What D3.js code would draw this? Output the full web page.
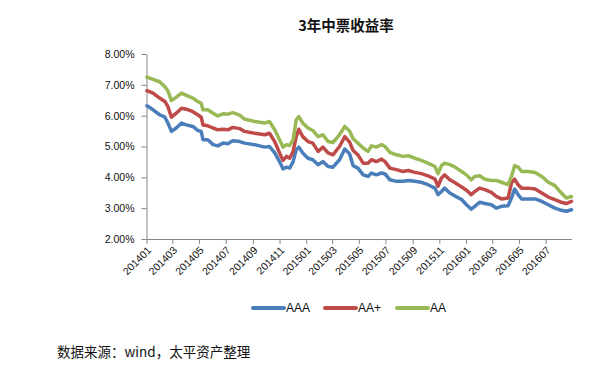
<!DOCTYPE html>
<html>
<head>
<meta charset="utf-8">
<script src="https://cdn.jsdelivr.net/npm/d3@7"></script>
<style>
  body { margin: 0; background: #fff; }
  svg { display: block; }
</style>
</head>
<body>
<script>
 //Data (yields in %)
 var dates = [
     "2014-01-02", "2014-01-16", "2014-01-31", "2014-02-12", "2014-02-19", "2014-02-27", "2014-03-10", "2014-03-22", "2014-04-02", "2014-04-17",
     "2014-04-28", "2014-05-06", "2014-05-10", "2014-05-21", "2014-06-02", "2014-06-13", "2014-06-25", "2014-07-06", "2014-07-17", "2014-08-02",
     "2014-08-13", "2014-09-05", "2014-09-28", "2014-10-09", "2014-10-21", "2014-11-01", "2014-11-09", "2014-11-17", "2014-11-24", "2014-12-02",
     "2014-12-09", "2014-12-15", "2014-12-24",
     "2015-01-05", "2015-01-16", "2015-01-28", "2015-02-08", "2015-02-20", "2015-03-03", "2015-03-18", "2015-03-30", "2015-04-10", "2015-04-18",
     "2015-04-29", "2015-05-11", "2015-05-22", "2015-05-30", "2015-06-10", "2015-06-22", "2015-06-30", "2015-07-11", "2015-07-26", "2015-08-10",
     "2015-08-22", "2015-09-06", "2015-09-21", "2015-10-06", "2015-10-22", "2015-10-29", "2015-11-06", "2015-11-13", "2015-11-25", "2015-12-06",
     "2015-12-22",
     "2016-01-02", "2016-01-13", "2016-01-21", "2016-02-01", "2016-02-13", "2016-02-28", "2016-03-10", "2016-03-22", "2016-04-06", "2016-04-14",
     "2016-04-21", "2016-04-29", "2016-05-07", "2016-05-22", "2016-06-07", "2016-06-22", "2016-07-07", "2016-07-22", "2016-08-06", "2016-08-17",
     "2016-08-29"
 ];

 var aaa = [
     6.32, 6.19, 6.03, 5.95, 5.76, 5.49, 5.60, 5.76, 5.70, 5.65,
     5.52, 5.49, 5.22, 5.22, 5.06, 5.02, 5.11, 5.09, 5.19, 5.16,
     5.11, 5.06, 4.98, 5.00, 4.79, 4.51, 4.27, 4.33, 4.30, 4.51,
     4.89, 4.98, 4.79,
     4.62, 4.57, 4.41, 4.51, 4.35, 4.33, 4.57, 4.92, 4.76, 4.38,
     4.30, 4.08, 4.03, 4.14, 4.08, 4.14, 4.11, 3.92, 3.87, 3.87,
     3.90, 3.87, 3.84, 3.76, 3.65, 3.44, 3.54, 3.65, 3.49, 3.40,
     3.28,
     3.11, 2.97, 3.06, 3.19, 3.15, 3.11, 3.00, 3.06, 3.08, 3.33,
     3.62, 3.44, 3.30, 3.30, 3.30, 3.22, 3.11, 3.00, 2.93, 2.90,
     2.95
 ];

 var aaPlus = [
     6.81, 6.73, 6.57, 6.46, 6.29, 5.95, 6.08, 6.24, 6.21, 6.13,
     6.03, 5.95, 5.70, 5.67, 5.60, 5.54, 5.56, 5.54, 5.62, 5.58,
     5.49, 5.43, 5.38, 5.43, 5.16, 4.79, 4.55, 4.68, 4.62, 4.84,
     5.32, 5.56, 5.32,
     5.16, 5.11, 4.84, 4.98, 4.79, 4.73, 5.00, 5.32, 5.14, 4.87,
     4.73, 4.46, 4.46, 4.57, 4.51, 4.59, 4.51, 4.30, 4.25, 4.19,
     4.22, 4.16, 4.12, 4.05, 3.94, 3.71, 3.98, 4.08, 3.92, 3.83,
     3.69,
     3.58, 3.44, 3.54, 3.65, 3.60, 3.51, 3.38, 3.30, 3.33, 3.82,
     3.94, 3.76, 3.65, 3.65, 3.62, 3.49, 3.36, 3.28, 3.19, 3.15,
     3.22
 ];

 var aa = [
     7.25, 7.18, 7.10, 6.94, 6.80, 6.49, 6.60, 6.73, 6.66, 6.57,
     6.46, 6.40, 6.19, 6.19, 6.08, 5.99, 6.06, 6.05, 6.10, 6.02,
     5.89, 5.81, 5.76, 5.81, 5.54, 5.22, 4.98, 5.06, 5.03, 5.22,
     5.86, 5.97, 5.76,
     5.60, 5.52, 5.32, 5.38, 5.16, 5.13, 5.38, 5.65, 5.50, 5.25,
     5.11, 4.95, 4.84, 5.02, 4.98, 5.06, 5.00, 4.81, 4.73, 4.68,
     4.70, 4.62, 4.55, 4.46, 4.35, 4.12, 4.38, 4.46, 4.41, 4.34,
     4.19,
     4.08, 3.92, 4.03, 4.05, 3.94, 3.90, 3.90, 3.84, 3.76, 4.03,
     4.38, 4.33, 4.19, 4.19, 4.16, 4.03, 3.84, 3.73, 3.49, 3.33,
     3.38
 ];

 var seriesNames = ["AAA", "AA+", "AA"];
 var seriesColors = ["#4a7ebb", "#be4b48", "#98b954"];
 var yTicks = [2, 3, 4, 5, 6, 7, 8];
 var xTickLabels = ["201401", "201403", "201405", "201407", "201409", "201411", "201501", "201503",
     "201505", "201507", "201509", "201511", "201601", "201603", "201605", "201607"];

 var titleText = "3年中票收益率";
 var sourceText = "数据来源：wind，太平资产整理";

 //Width and height
 var margin = {
         left: 146.5,
         right: 23.5,
         top: 54,
         bottom: 138
     },
     width = 595 - margin.left - margin.right,
     height = 377 - margin.top - margin.bottom;

 var parseDate = d3.timeParse("%Y-%m-%d");
 var parseMonth = d3.timeParse("%Y%m");

 //Scales
 var x = d3.scaleTime()
     .domain([parseDate("2014-01-01"), parseDate("2016-08-29")])
     .range([0, width]);

 var y = d3.scaleLinear()
     .domain([2, 8])
     .range([height, 0]);

 //Create SVG element
 var svgRoot = d3.select("body")
     .append("svg")
     .attr("width", 595)
     .attr("height", 377)
     .style("font-family", "'Liberation Sans', Arial, sans-serif");

 var svg = svgRoot.append("g")
     .attr("transform", "translate(" + margin.left + "," + margin.top + ")");

 //Title
 svgRoot.append("text")
     .attr("x", 346)
     .attr("y", 31)
     .attr("text-anchor", "middle")
     .style("font-family", "'Noto Sans CJK SC', sans-serif")
     .style("font-size", "14.5px")
     .style("font-weight", "bold")
     .style("fill", "#111")
     .text(titleText);

 //Y axis
 var yAxis = svg.append("g")
     .attr("class", "y axis")
     .call(d3.axisLeft(y)
         .tickValues(yTicks)
         .tickSize(5)
         .tickSizeOuter(0)
         .tickPadding(7)
         .tickFormat(function(d) {
             return d.toFixed(2) + "%";
         }));

 //X axis
 var xAxis = svg.append("g")
     .attr("class", "x axis")
     .attr("transform", "translate(0," + height + ")")
     .call(d3.axisBottom(x)
         .tickValues(xTickLabels.map(function(s) {
             return parseMonth(s);
         }))
         .tickSize(5)
         .tickSizeOuter(0)
         .tickFormat(d3.timeFormat("%Y%m")));

 xAxis.selectAll("text")
     .attr("text-anchor", "end")
     .attr("dx", null)
     .attr("dy", null)
     .attr("y", null)
     .attr("transform", "translate(3,10) rotate(-45)")
     .attr("dominant-baseline", "middle");

 svg.selectAll(".axis path, .axis line")
     .attr("stroke", "#868686");
 svg.selectAll(".axis text")
     .style("font-size", "10.5px")
     .attr("fill", "#111");

 //Build series from the arrays
 var valueSets = [aaa, aaPlus, aa];
 var series = seriesNames.map(function(name, i) {
     return {
         name: name,
         color: seriesColors[i],
         values: dates.map(function(d, j) {
             return { date: parseDate(d), value: valueSets[i][j] };
         })
     };
 });

 var line = d3.line()
     .x(function(d) { return x(d.date); })
     .y(function(d) { return y(d.value); });

 svg.append("g")
     .selectAll("path")
     .data(series)
     .enter()
     .append("path")
     .attr("d", function(d) { return line(d.values); })
     .attr("fill", "none")
     .attr("stroke", function(d) { return d.color; })
     .attr("stroke-width", 3.5)
     .attr("stroke-linejoin", "round")
     .attr("stroke-linecap", "round");

 //Legend
 var legendX = [253, 325, 397];
 var legend = svgRoot.append("g")
     .selectAll("g")
     .data(series)
     .enter()
     .append("g")
     .attr("transform", function(d, i) {
         return "translate(" + legendX[i] + ",308)";
     });

 legend.append("line")
     .attr("x1", 0)
     .attr("x2", 31)
     .attr("stroke", function(d) { return d.color; })
     .attr("stroke-width", 4)
     .attr("stroke-linecap", "round");

 legend.append("text")
     .attr("x", 33)
     .attr("dy", "0.35em")
     .style("font-size", "12px")
     .style("fill", "#111")
     .text(function(d) { return d.name; });

 //Source note
 svgRoot.append("text")
     .attr("x", 57)
     .attr("y", 357)
     .style("font-family", "'Noto Sans CJK SC', sans-serif")
     .style("font-size", "13.5px")
     .style("fill", "#111")
     .text(sourceText);
</script>
</body>
</html>
